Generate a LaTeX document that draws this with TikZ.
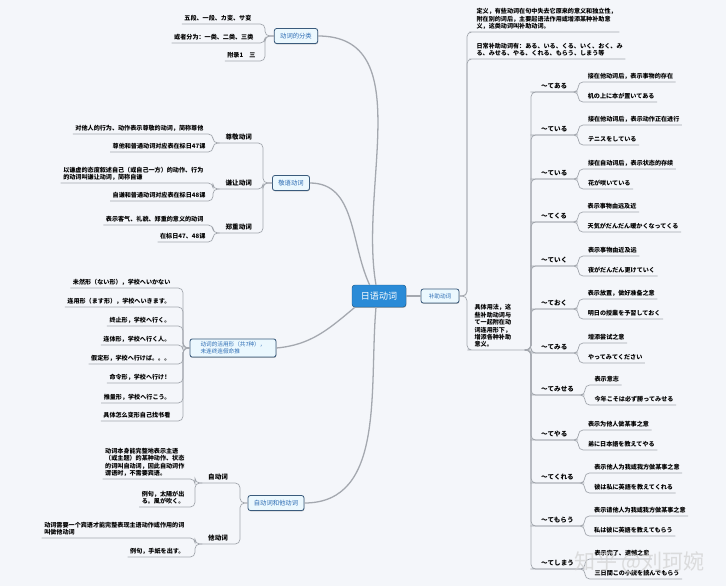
\documentclass[tikz,border=0pt]{standalone}
\usepackage{fontspec}
\setmainfont{Noto Sans CJK SC}
\usetikzlibrary{positioning,shadows}
\definecolor{paper}{HTML}{F4F6FA}
\definecolor{branch}{HTML}{A4A8AF}
\definecolor{frame}{HTML}{3A5B7C}
\definecolor{topictext}{HTML}{2B6BB3}
\definecolor{rootblue}{HTML}{2A8BD7}
\tikzset{
  root/.style={
    draw=rootblue!65!black,
    fill=rootblue,
    text=white,
    rounded corners=2.5pt,
    minimum width=1.62cm,
    minimum height=0.66cm,
    font=\fontsize{7.7}{8}\selectfont,
    drop shadow={shadow xshift=0.3pt,shadow yshift=-0.7pt,opacity=0.6}
  },
  topic/.style={
    draw=frame,
    line width=0.7pt,
    fill=white!92!cyan,
    text=topictext,
    rounded corners=2pt,
    inner xsep=5pt,
    inner ysep=2.5pt,
    minimum height=0.45cm,
    font=\fontsize{5.4}{6.6}\selectfont,
    drop shadow={shadow xshift=0.3pt,shadow yshift=-0.7pt,opacity=0.55}
  },
  sub/.style={inner xsep=5pt, inner ysep=2pt, font=\fontsize{5.6}{6.6}\selectfont\bfseries},
  leaf/.style={inner xsep=2pt, inner ysep=2pt, align=left, font=\fontsize{5.2}{6.3}\selectfont\bfseries},
  link/.style={draw=branch, line width=0.6pt, rounded corners=4pt},
  mainlink/.style={draw=branch, line width=1.1pt},
  wmark/.style={text=gray!35, opacity=0.75, font=\fontsize{18}{18}\selectfont}
}
\begin{document}
\begin{tikzpicture}[x=0.03cm,y=-0.03cm]
  \fill[paper] (0,0) rectangle (726,586);
  \useasboundingbox (0,0) rectangle (726,586);

  % centre and main topics
  \node[root] (root) at (379,296) {日语动词};
  \node[topic] (fenlei) at (296,36) {动词的分类};
  \node[topic] (jingyu) at (291,183) {敬语动词};
  \node[topic, align=left, minimum width=2.58cm, font=\fontsize{4.8}{6}\selectfont] (form) at (233,348) {动词的活用形（共7种），\\未连终连假命推};
  \node[topic] (zita) at (276,503) {自动词和他动词};
  \node[topic, minimum width=1.14cm, minimum height=0.42cm, font=\fontsize{4.8}{5.5}\selectfont] (bz) at (440,296) {补助动词};

  \draw[mainlink] (fenlei.east) to[out=0,in=100] (root.105);
  \draw[mainlink] (jingyu.east) to[out=0,in=115] (root.130);
  \draw[mainlink] (form.east) to[out=5,in=220] (root.205);
  \draw[mainlink] (zita.east) to[out=0,in=265] (root.255);
  \draw[mainlink] (root.east) -- (bz.west);

  % 动词的分类
  \coordinate (fT) at (265,36);
  \node[leaf, anchor=south east] (f1) at (254,24) {五段、一段、カ变、サ变};
  \node[leaf, anchor=south east] (f2) at (256,43) {或者分为：一类、二类、三类};
  \node[leaf, anchor=south east] (f3) at (258,61) {附录1　三};
  \foreach \n in {f1,f2,f3}
    \draw[link] (\n.south west) -- (\n.south -| fT) |- (fenlei.west);

  % 敬语动词
  \coordinate (jT) at (263,183);
  \coordinate (jS) at (213,183);
  \node[sub, anchor=south east] (j1) at (258,143) {尊敬动词};
  \node[sub, anchor=south east] (j2) at (258,189) {谦让动词};
  \node[sub, anchor=south east] (j3) at (258,233) {郑重动词};
  \node[leaf, anchor=south east] (j11) at (206,134) {对他人的行为、动作表示尊敬的动词，简称尊他};
  \node[leaf, anchor=south east] (j12) at (208,152) {尊他和普通动词对应表在标日47课};
  \node[leaf, anchor=south east] (j21) at (206,183) {以谦虚的态度叙述自己（或自己一方）的动作、行为\\的动词叫谦让动词，简称自谦};
  \node[leaf, anchor=south east] (j22) at (208,201) {自谦和普通动词对应表在标日48课};
  \node[leaf, anchor=south east] (j31) at (206,225) {表示客气、礼貌、郑重的意义的动词};
  \node[leaf, anchor=south east] (j32) at (208,242) {在标日47、48课};
  \foreach \n in {j1,j2,j3}
    \draw[link] (\n.south west) -- (\n.south -| jT) |- (jingyu.west);
  \foreach \n/\p in {j11/j1,j12/j1,j21/j2,j22/j2,j31/j3,j32/j3}
    \draw[link] (\n.south west) -- (\n.south -| jS) |- (\p.south west);

  % 活用形
  \coordinate (mT) at (183,348);
  \foreach \i/\y/\txt in {1/288/未然形（ない形），学校へいかない,
                          2/307/连用形（ます形），学校へいきます。,
                          3/326/终止形，学校へ行く。,
                          4/345/连体形，学校へ行く人。,
                          5/364/假定形，学校へ行けば。。。,
                          6/383/命令形，学校へ行け！,
                          7/403/推量形，学校へ行こう。,
                          8/421/具体怎么变形自己找书看}{
    \node[leaf, anchor=south east] (m\i) at (173,\y) {\txt};
    \draw[link] (m\i.south west) -- (m\i.south -| mT) |- (form.west);
  }

  % 自动词和他动词
  \coordinate (zT) at (240,503);
  \coordinate (zS) at (195,503);
  \node[sub, anchor=south east] (z1) at (234,483) {自动词};
  \node[sub, anchor=south east] (z2) at (234,544) {他动词};
  \node[leaf, anchor=south east] (z11) at (187,479) {动词本身能完整地表示主语\\（或主题）的某种动作、状态\\的词叫自动词，因此自动词作\\谓语时，不需要宾语。};
  \node[leaf, anchor=south east] (z12) at (187,507) {例句，太陽が出\\る。風が吹く。};
  \node[leaf, anchor=south east] (z21) at (187,538) {动词需要一个宾语才能完整表现主语动作或作用的词\\叫做他动词};
  \node[leaf, anchor=south east] (z22) at (187,557) {例句，手紙を出す。};
  \foreach \n in {z1,z2}
    \draw[link] (\n.south west) -- (\n.south -| zT) |- (zita.west);
  \foreach \n/\p in {z11/z1,z12/z1,z21/z2,z22/z2}
    \draw[link] (\n.south west) -- (\n.south -| zS) |- (\p.south west);

  % 补助动词
  \coordinate (bT) at (467,296);
  \coordinate (uT) at (531,350);
  \node[leaf, anchor=south west] (b1) at (474,32) {定义，有些动词在句中失去它原来的意义和独立性，\\附在别的词后，主要起语法作用或增添某种补助意\\义，这类动词叫补助动词。};
  \node[leaf, anchor=south west] (b2) at (474,59) {日常补助动词有：ある、いる、くる、いく、おく、み\\る、みせる、やる、くれる、もらう、しまう等};
  \node[leaf, anchor=south west, text width=1.5cm] (b3) at (472,350) {具体用法，这\\些补助动词与\\て一起附在动\\词连用形下，\\增添各种补助\\意义。};
  \foreach \n in {b1,b2,b3}
    \draw[link] (\n.south east) -- (\n.south west) -- (\n.south -| bT) |- (bz.east);

  \foreach \i/\lab/\y/\ta/\tb in {1/～てある/92/接在他动词后，表示事物的存在/机の上に本が置いてある,
      2/～ている/135/接在他动词后，表示动作正在进行/テニスをしている,
      3/～ている/179/接在自动词后，表示状态的存续/花が咲いている,
      4/～てくる/222/表示事物由远及近/天気がだんだん暖かくなってくる,
      5/～ていく/266/表示事物由近及远/夜がだんだん更けていく,
      6/～ておく/309/表示放置，做好准备之意/明日の授業を予習しておく,
      7/～てみる/353/增添尝试之意/やってみてください,
      8/～てみせる/395/表示意志/今年こそは必ず勝ってみせる,
      9/～てやる/440/表示为他人做某事之意/弟に日本語を教えてやる,
      10/～てくれる/483/表示他人为我或我方做某事之意/彼は私に英語を教えてくれる,
      11/～てもらう/526/表示请他人为我或我方做某事之意/私は彼に英語を教えてもらう,
      12/～てしまう/569/表示完了、遗憾之意/三日間この小説を読んでもらう}{
    \node[sub, anchor=south west] (t\i) at (535,\y) {\lab};
    \node[leaf, anchor=south west] (t\i-a) at ([shift={(12,-10)}]t\i.south east) {\ta};
    \node[leaf, anchor=south west] (t\i-b) at ([shift={(12,10)}]t\i.south east) {\tb};
    \draw[link] (t\i.south east) -- (t\i.south west) -- (t\i.south -| uT) |- (b3.south east);
    \draw[link] (t\i.south west) -- (t\i.south east) -- ++(5,0) |- (t\i-a.south east);
    \draw[link] (t\i.south east) -- ++(5,0) |- (t\i-b.south east);
  }

  \node[wmark] (wm) at (640,562) {知乎 @刘珂婉};
\end{tikzpicture}
\end{document}
